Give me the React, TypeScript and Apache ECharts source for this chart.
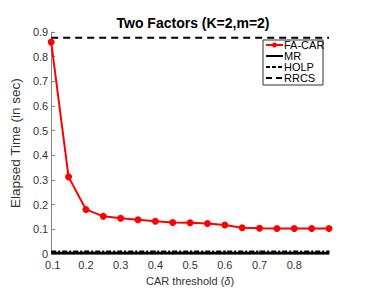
import React, { useEffect, useRef } from "react";
import * as echarts from "echarts";

const xValues = [0.1, 0.15, 0.2, 0.25, 0.3, 0.35, 0.4, 0.45, 0.5, 0.55, 0.6, 0.65, 0.7, 0.75, 0.8, 0.85, 0.9];
const faCar = [0.859, 0.313, 0.181, 0.153, 0.145, 0.139, 0.133, 0.128, 0.127, 0.124, 0.118, 0.107, 0.105, 0.104, 0.104, 0.104, 0.104];
const mrValue = 0.004;
const holpValue = 0.011;
const rrcsValue = 0.877;
const xTickLabels = ["0.1", "0.2", "0.3", "0.4", "0.5", "0.6", "0.7", "0.8", ""];
const legendNames = ["FA-CAR", "MR", "HOLP", "RRCS"];

const FONT = "Liberation Sans, Arial, sans-serif";

export default function App() {
  const ref = useRef<HTMLDivElement>(null);
  useEffect(() => {
    const chart = echarts.init(ref.current!, null, { renderer: "svg" });
    const pairs = (v: number) => xValues.map((x) => [x, v]);

    const lx = 263, ly = 40, lw = 60, lh = 45;
    const rowY = [45, 56, 67, 78];
    const lineDash: (number[] | null)[] = [null, null, [4, 2], [6, 4]];
    const legendEls: any[] = [
      { type: "rect", shape: { x: lx, y: ly, width: lw, height: lh }, style: { fill: "#fff", stroke: "#333", lineWidth: 1 }, z: 100 },
    ];
    legendNames.forEach((n, i) => {
      legendEls.push({
        type: "line",
        shape: { x1: lx + 3, y1: rowY[i], x2: lx + 20, y2: rowY[i] },
        style: { stroke: i === 0 ? "#ff0000" : "#000", lineWidth: 2, lineDash: lineDash[i] || undefined },
        z: 101,
      });
      if (i === 0) {
        legendEls.push({ type: "circle", shape: { cx: lx + 11.5, cy: rowY[i], r: 2.5 }, style: { fill: "#ff0000" }, z: 102 });
      }
      legendEls.push({
        type: "text",
        x: lx + 21,
        y: rowY[i],
        style: { text: n, fontFamily: FONT, fontSize: 11, fill: "#000", verticalAlign: "middle", align: "left" },
        z: 101,
      });
    });

    chart.setOption({
      animation: false,
      backgroundColor: "#fff",
      textStyle: { fontFamily: FONT },
      title: {
        text: "Two Factors (K=2,m=2)",
        left: 188,
        textAlign: "center",
        top: 11,
        textStyle: { fontFamily: FONT, fontSize: 14, fontWeight: "bold", color: "#000" },
      },
      grid: { left: 47, right: 45, top: 32, bottom: 31.5 },
      graphic: legendEls,
      xAxis: {
        type: "value",
        min: 0.1,
        max: 0.9,
        interval: 0.1,
        name: "CAR threshold ({i|δ})",
        nameLocation: "middle",
        nameGap: 20,
        nameTextStyle: {
          fontFamily: FONT,
          fontSize: 11,
          color: "#333",
          rich: { i: { fontStyle: "italic", fontFamily: FONT, fontSize: 11, color: "#333" } },
        },
        axisLine: { show: true, lineStyle: { color: "#888", width: 1 } },
        axisTick: { show: true, inside: true, length: 4, lineStyle: { color: "#888" } },
        axisLabel: {
          fontFamily: FONT,
          fontSize: 11,
          color: "#333",
          margin: 5,
          formatter: (v: number) => {
            const idx = Math.round(v * 10) - 1;
            const s = xTickLabels[idx] ?? "";
            return idx === 0 ? "{m|" + s + "}" : s;
          },
          rich: { m: { fontFamily: FONT, fontSize: 11, color: "#333", padding: [0, 0, 0, 3] } },
        },
        splitLine: { show: false },
      },
      yAxis: {
        type: "value",
        min: 0,
        max: 0.9,
        interval: 0.1,
        name: "Elapsed Time (in sec)",
        nameLocation: "middle",
        nameGap: 17,
        nameTextStyle: { fontFamily: FONT, fontSize: 13.5, color: "#333" },
        axisLine: { show: true, lineStyle: { color: "#888", width: 1 } },
        axisTick: { show: true, inside: true, length: 4, lineStyle: { color: "#888" } },
        axisLabel: {
          fontFamily: FONT,
          fontSize: 11,
          color: "#333",
          margin: 3,
          formatter: (v: number) => (v === 0 ? "0" : v.toFixed(1)),
        },
        splitLine: { show: false },
      },
      series: [
        {
          name: "FA-CAR",
          type: "line",
          data: xValues.map((x, i) => [x, faCar[i]]),
          lineStyle: { color: "#ff0000", width: 2 },
          itemStyle: { color: "#ff0000" },
          symbol: "circle",
          symbolSize: 7,
          z: 5,
        },
        {
          name: "MR",
          type: "line",
          data: pairs(mrValue),
          lineStyle: { color: "#000", width: 2.5, type: "solid" },
          symbol: "none",
          z: 3,
        },
        {
          name: "HOLP",
          type: "line",
          data: pairs(holpValue),
          lineStyle: { color: "#000", width: 2, type: [5, 2, 2, 2] },
          symbol: "none",
          z: 3,
        },
        {
          name: "RRCS",
          type: "line",
          data: pairs(rrcsValue),
          lineStyle: { color: "#000", width: 2, type: [7, 5] },
          symbol: "none",
          z: 3,
        },
      ],
    });
    return () => chart.dispose();
  }, []);
  return <div ref={ref} style={{ position: "fixed", left: 0, top: 0, width: 374, height: 291 }} />;
}
